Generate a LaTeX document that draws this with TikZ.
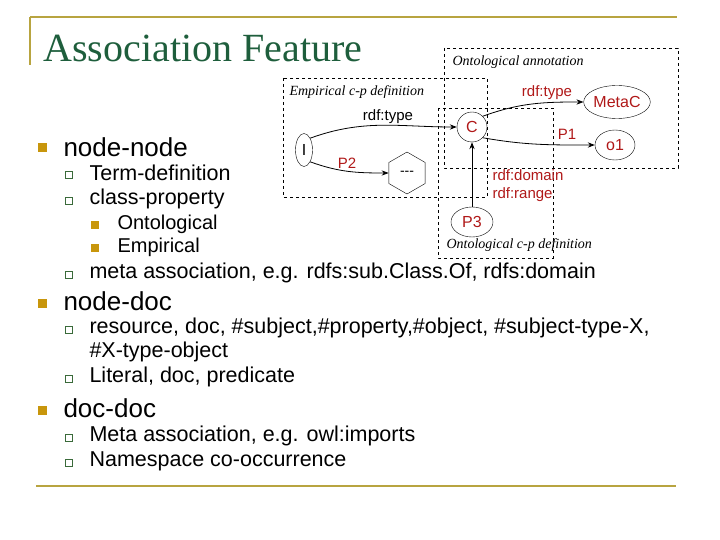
\documentclass[tikz,border=0pt]{standalone}
\usepackage{fontspec}
\setmainfont{Liberation Sans}
\newfontfamily\serifx{Liberation Serif}
\usetikzlibrary{shapes.geometric,arrows.meta}
\definecolor{gold}{HTML}{B8A440}
\definecolor{bul}{HTML}{C8960C}
\definecolor{ttl}{HTML}{1E5E3C}
\definecolor{sub}{HTML}{3A6A3A}
\definecolor{rd}{HTML}{B01818}
\begin{document}
\begin{tikzpicture}[x=1pt,y=-1pt,
  lvA/.style={anchor=west,font=\fontsize{26}{26}\selectfont},
  lvB/.style={anchor=west,font=\fontsize{21.5}{22}\selectfont},
  lvC/.style={anchor=west,font=\fontsize{20}{20}\selectfont},
  bA/.style={fill=bul,minimum size=9pt,inner sep=0pt},
  bB/.style={draw=sub,thick,minimum size=7pt,inner sep=0pt},
  bC/.style={fill=bul,minimum size=8pt,inner sep=0pt},
  grp/.style={draw,dashed,thin},
  glab/.style={font=\serifx\itshape\fontsize{14}{14}\selectfont,anchor=west},
  nd/.style={draw,ellipse,inner sep=0pt,text=rd,font=\fontsize{16}{16}\selectfont},
  rl/.style={text=rd,font=\fontsize{15}{15}\selectfont},
  ar/.style={-{Stealth[length=7pt]},thick}]
\useasboundingbox (0,0) rectangle (720,540);
\draw[gold,line width=2.5pt] (30,17) -- (677,17);
\draw[gold,line width=2.5pt] (30,17) -- (30,65);
\draw[gold,line width=2.5pt] (36,486) -- (676,486);
\node[anchor=west,text=ttl,font=\serifx\fontsize{40}{40}\selectfont] (title) at (40,48) {Association Feature};
% bullets
\node[bA] (b1) at (42,148) {}; \node[lvA] (t1) at (60,147) {node-node};
\node[bB] (b2) at (69,175) {}; \node[lvB] (t2) at (86,173) {Term-definition};
\node[bB] (b3) at (69,201) {}; \node[lvB] (t3) at (86,199) {class-property};
\node[bC] (b4) at (95,225) {}; \node[lvC] (t4) at (114,224) {Ontological};
\node[bC] (b5) at (95,248) {}; \node[lvC] (t5) at (114,247) {Empirical};
\node[bB] (b6) at (69,275) {}; \node[lvB] (t6) at (86,273) {meta association, e.g. rdfs:sub.Class.Of, rdfs:domain};
\node[bA] (b7) at (42,303) {}; \node[lvA] (t7) at (60,301) {node-doc};
\node[bB] (b8) at (69,330) {}; \node[lvB] (t8) at (86,328) {resource, doc, \#subject,\#property,\#object, \#subject-type-X,};
\node[lvB] (t8b) at (86,352) {\#X-type-object};
\node[bB] (b9) at (69,379) {}; \node[lvB] (t9) at (86,377) {Literal, doc, predicate};
\node[bA] (b10) at (42,410) {}; \node[lvA] (t10) at (60,408) {doc-doc};
\node[bB] (b11) at (69,438) {}; \node[lvB] (t11) at (86,436) {Meta association, e.g. owl:imports};
\node[bB] (b12) at (69,463) {}; \node[lvB] (t12) at (86,461) {Namespace co-occurrence};
% groups
\draw[grp] (444,48) rectangle (678,168);
\draw[grp] (283,78) rectangle (487,197);
\draw[grp] (438,108) rectangle (553,258);
\node[glab] (g1) at (449,62) {Ontological annotation};
\node[glab] (g2) at (286,92) {Empirical c-p definition};
\node[glab] (g3) at (443,245) {Ontological c-p definition};
% nodes
\node[nd,minimum width=17pt,minimum height=33pt,text=black] (I) at (304,150) {I};
\node[nd,circle,minimum size=30pt] (C) at (472,127) {C};
\node[nd,minimum width=57pt,minimum height=33pt] (M) at (617,102) {MetaC};
\node[nd,minimum width=40pt,minimum height=30pt] (o) at (615,145) {o1};
\node[draw,regular polygon,regular polygon sides=6,shape border rotate=30,minimum width=42pt,inner sep=0pt,font=\fontsize{14}{14}\selectfont] (H) at (407,173) {-{}-{}-};
\node[nd,minimum width=42pt,minimum height=30pt] (P3) at (472,222) {P3};
% edges
\draw[ar] (I.north east) to[out=20,in=180] (C.west);
\draw[ar] (I.south east) to[out=-20,in=180] (H.west);
\draw[ar] (C.north east) to[out=20,in=180] (M.west);
\draw[ar] (C.south east) to[out=-10,in=180] (o.west);
\draw[ar] (P3.north) -- (C.south);
\node[font=\fontsize{15}{15}\selectfont] (l1) at (388,117) {rdf:type};
\node[rl] (l2) at (347,163) {P2};
\node[rl] (l3) at (547,93) {rdf:type};
\node[rl] (l4) at (567,134) {P1};
\node[rl,anchor=west] (l5) at (489,175) {rdf:domain};
\node[rl,anchor=west] (l6) at (489,195) {rdf:range};
\end{tikzpicture}
\end{document}
